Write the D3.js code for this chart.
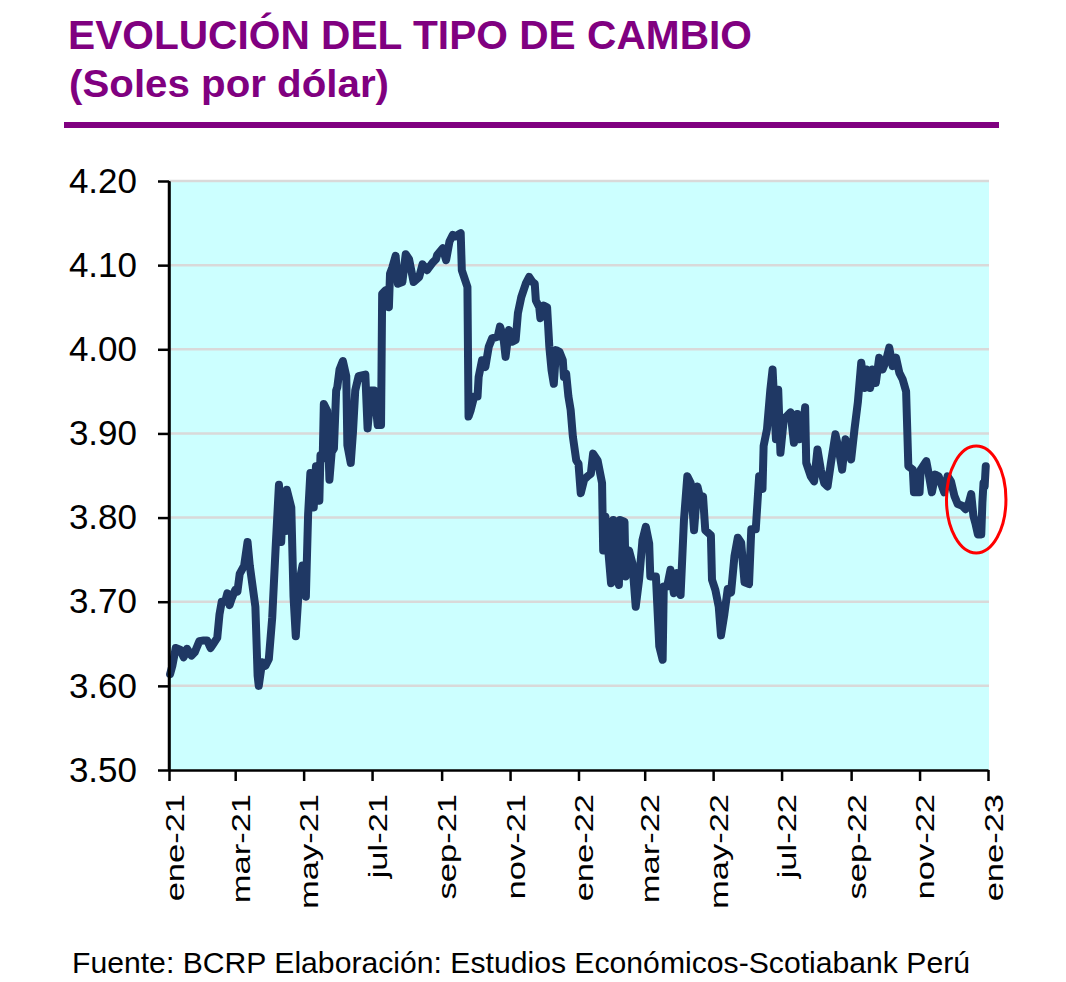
<!DOCTYPE html>
<html><head><meta charset="utf-8">
<script src="https://cdn.jsdelivr.net/npm/d3@7"></script>
<style>
body{margin:0;background:#fff}
svg{display:block}
text{font-family:"Liberation Sans",Arial,Helvetica,sans-serif}
</style>
</head><body>
<svg id="c" width="1066" height="982"></svg>
<script>
// ---------------- DATA ----------------
const titulo = "EVOLUCIÓN DEL TIPO DE CAMBIO";
const subtitulo = "(Soles por dólar)";
const fuente = "Fuente: BCRP Elaboración: Estudios Económicos-Scotiabank Perú";

const ticksY = [3.50, 3.60, 3.70, 3.80, 3.90, 4.00, 4.10, 4.20];
const ticksX = ["2021-01-01","2021-03-01","2021-05-01","2021-07-01","2021-09-01","2021-11-01",
                "2022-01-01","2022-03-01","2022-05-01","2022-07-01","2022-09-01","2022-11-01","2023-01-01"];
const etiquetasX = ["ene-21","mar-21","may-21","jul-21","sep-21","nov-21",
                    "ene-22","mar-22","may-22","jul-22","sep-22","nov-22","ene-23"];

const fechas = [
"2021-01-02","2021-01-04","2021-01-07","2021-01-11","2021-01-14","2021-01-17","2021-01-21","2021-01-24","2021-01-28",
"2021-02-01","2021-02-04","2021-02-07","2021-02-10","2021-02-13","2021-02-15","2021-02-17","2021-02-20","2021-02-22","2021-02-24","2021-02-26",
"2021-03-01","2021-03-03","2021-03-05","2021-03-09","2021-03-12","2021-03-14","2021-03-19","2021-03-21","2021-03-22","2021-03-25","2021-03-28","2021-03-31",
"2021-04-03","2021-04-06","2021-04-09","2021-04-11","2021-04-13","2021-04-15","2021-04-16","2021-04-20","2021-04-22","2021-04-24","2021-04-27","2021-04-30",
"2021-05-03","2021-05-05","2021-05-07","2021-05-10","2021-05-12","2021-05-15","2021-05-16","2021-05-18","2021-05-19","2021-05-22","2021-05-24","2021-05-26","2021-05-28","2021-05-30","2021-05-31",
"2021-06-02","2021-06-05","2021-06-08","2021-06-09","2021-06-12","2021-06-14","2021-06-16","2021-06-19","2021-06-25","2021-06-27","2021-06-30",
"2021-07-03","2021-07-06","2021-07-09","2021-07-10","2021-07-13","2021-07-16","2021-07-17","2021-07-19","2021-07-22","2021-07-24","2021-07-28","2021-07-31",
"2021-08-03","2021-08-07","2021-08-12","2021-08-15","2021-08-19","2021-08-24","2021-08-27","2021-08-28",
"2021-09-02","2021-09-05","2021-09-08","2021-09-11","2021-09-13","2021-09-18","2021-09-19","2021-09-24","2021-09-25","2021-09-27","2021-09-30",
"2021-10-03","2021-10-04","2021-10-07","2021-10-10","2021-10-13","2021-10-16","2021-10-21","2021-10-23","2021-10-26","2021-10-28","2021-10-31",
"2021-11-03","2021-11-06","2021-11-08","2021-11-11","2021-11-15","2021-11-18","2021-11-21","2021-11-23","2021-11-24","2021-11-27","2021-11-28",
"2021-12-01","2021-12-04","2021-12-06","2021-12-08","2021-12-10","2021-12-12","2021-12-15","2021-12-18","2021-12-19","2021-12-21","2021-12-23","2021-12-25","2021-12-27","2021-12-30",
"2022-01-01","2022-01-03","2022-01-06","2022-01-09","2022-01-12","2022-01-14","2022-01-18","2022-01-22","2022-01-23","2022-01-25","2022-01-30",
"2022-02-01","2022-02-03","2022-02-06","2022-02-07","2022-02-11","2022-02-12","2022-02-15","2022-02-18","2022-02-21","2022-02-24","2022-02-27",
"2022-03-02","2022-03-05","2022-03-06","2022-03-11","2022-03-14","2022-03-17","2022-03-18","2022-03-21","2022-03-24","2022-03-27","2022-03-30",
"2022-04-02","2022-04-05","2022-04-08","2022-04-11","2022-04-14","2022-04-17","2022-04-20","2022-04-22","2022-04-24","2022-04-29","2022-04-30",
"2022-05-03","2022-05-06","2022-05-08","2022-05-11","2022-05-14","2022-05-17","2022-05-20","2022-05-23","2022-05-26","2022-05-29",
"2022-06-02","2022-06-04","2022-06-08","2022-06-11","2022-06-14","2022-06-15","2022-06-18","2022-06-21","2022-06-23","2022-06-26","2022-06-28","2022-06-30",
"2022-07-03","2022-07-06","2022-07-09","2022-07-12","2022-07-15","2022-07-17","2022-07-20","2022-07-22","2022-07-23","2022-07-27","2022-07-30",
"2022-08-02","2022-08-05","2022-08-08","2022-08-11","2022-08-14","2022-08-18","2022-08-21","2022-08-24","2022-08-27",
"2022-09-01","2022-09-04","2022-09-07","2022-09-10","2022-09-13","2022-09-15","2022-09-18","2022-09-20","2022-09-23","2022-09-26","2022-09-29",
"2022-10-02","2022-10-05","2022-10-08","2022-10-11","2022-10-14","2022-10-17","2022-10-20","2022-10-22","2022-10-26","2022-10-27",
"2022-11-01","2022-11-02","2022-11-07","2022-11-09","2022-11-12","2022-11-15","2022-11-18","2022-11-23","2022-11-26","2022-11-29",
"2022-12-02","2022-12-05","2022-12-09","2022-12-12","2022-12-15","2022-12-17","2022-12-19","2022-12-21","2022-12-23","2022-12-26","2022-12-27","2022-12-28","2022-12-29","2022-12-30"
];

const tipoCambio = [
3.614,3.624,3.645,3.643,3.634,3.644,3.636,3.640,3.653,
3.654,3.654,3.645,3.651,3.657,3.685,3.700,3.700,3.710,3.696,3.704,
3.714,3.712,3.733,3.743,3.771,3.743,3.694,3.612,3.600,3.628,3.624,3.632,
3.681,3.763,3.839,3.771,3.829,3.784,3.833,3.812,3.706,3.659,3.722,3.743,
3.706,3.804,3.853,3.812,3.861,3.820,3.874,3.870,3.935,3.927,3.845,3.878,3.882,3.951,3.955,
3.976,3.986,3.968,3.886,3.865,3.902,3.951,3.968,3.970,3.906,3.951,
3.951,3.910,3.910,4.066,4.070,4.050,4.090,4.097,4.111,4.078,4.080,4.113,
4.107,4.080,4.086,4.101,4.094,4.103,4.107,4.112,
4.120,4.106,4.128,4.136,4.134,4.138,4.094,4.074,3.920,3.928,3.944,
3.944,3.967,3.987,3.979,4.003,4.013,4.015,4.027,4.015,3.991,4.023,
4.009,4.011,4.043,4.062,4.078,4.086,4.080,4.078,4.058,4.050,4.037,
4.052,4.050,4.003,3.975,3.959,3.999,3.997,3.987,3.967,3.971,3.944,3.928,3.896,3.868,
3.864,3.829,3.845,3.849,3.852,3.876,3.868,3.841,3.761,3.801,3.722,
3.797,3.734,3.720,3.797,3.795,3.730,3.761,3.746,3.694,3.726,3.773,
3.789,3.769,3.730,3.730,3.647,3.631,3.718,3.718,3.738,3.710,3.734,
3.708,3.797,3.849,3.841,3.785,3.837,3.820,3.825,3.785,3.779,3.726,
3.714,3.694,3.660,3.685,3.715,3.711,3.754,3.776,3.770,3.723,
3.721,3.786,3.786,3.849,3.834,3.885,3.905,3.952,3.976,3.893,3.952,3.877,
3.917,3.921,3.925,3.889,3.923,3.893,3.905,3.931,3.865,3.849,3.843,
3.881,3.857,3.841,3.837,3.865,3.899,3.881,3.857,3.893,
3.869,3.905,3.937,3.984,3.954,3.976,3.954,3.976,3.960,3.990,3.976,
3.986,4.002,3.980,3.990,3.972,3.964,3.950,3.861,3.857,3.830,
3.830,3.857,3.867,3.853,3.830,3.851,3.849,3.830,3.849,3.843,
3.826,3.816,3.814,3.810,3.818,3.828,3.802,3.792,3.780,3.780,3.818,3.841,3.837,3.861
];

// highlighted zone (red ellipse)
const resaltadoFechas = ["2022-11-25","2023-01-17"];
const resaltadoValores = [3.758, 3.885];

// ---------------- DRAW ----------------
const parse = d3.timeParse("%Y-%m-%d");
const serie = fechas.map((f,i)=>({fecha: parse(f), valor: tipoCambio[i]}));

const svg = d3.select("#c");
svg.append("rect").attr("width",1066).attr("height",982).attr("fill","#fff");

const plot = {left:169, right:988, top:181, bottom:770};
const x = d3.scaleTime().domain([parse(ticksX[0]), parse(ticksX[ticksX.length-1])]).range([plot.left, plot.right]);
const y = d3.scaleLinear().domain([3.5, 4.2]).range([plot.bottom, plot.top]);

const purple = "#800080";

// Title
svg.append("text").attr("x",68).attr("y",49).attr("font-size",40).attr("font-weight","bold")
  .attr("fill",purple).attr("textLength",684).attr("lengthAdjust","spacingAndGlyphs").text(titulo);
svg.append("text").attr("x",69).attr("y",97).attr("font-size",39).attr("font-weight","bold")
  .attr("fill",purple).attr("textLength",320).attr("lengthAdjust","spacingAndGlyphs").text(subtitulo);
svg.append("rect").attr("x",64).attr("y",122).attr("width",935).attr("height",6).attr("fill",purple);

// Plot background
svg.append("rect").attr("x",plot.left).attr("y",plot.top).attr("width",plot.right-plot.left+1)
  .attr("height",plot.bottom-plot.top).attr("fill","#CCFFFF");

// Gridlines
svg.append("g").selectAll("line").data(ticksY.filter(v=>v>3.5)).join("line")
  .attr("x1",plot.left).attr("x2",plot.right+1)
  .attr("y1",d=>y(d)).attr("y2",d=>y(d))
  .attr("stroke","#D9D9D9").attr("stroke-width",2.5);

// Line
const line = d3.line().x(d=>x(d.fecha)).y(d=>y(d.valor));
svg.append("path").datum(serie).attr("d",line).attr("fill","none")
  .attr("stroke","#1F3864").attr("stroke-width",8)
  .attr("stroke-linejoin","round").attr("stroke-linecap","round");

// Y axis
const yAxis = d3.axisLeft(y).tickValues(ticksY).tickFormat(d3.format(".2f")).tickSize(11).tickSizeOuter(0).tickPadding(21);
const gy = svg.append("g").attr("transform",`translate(${plot.left},0)`).call(yAxis);
gy.select(".domain").attr("stroke","#000").attr("stroke-width",2.5);
gy.selectAll(".tick line").attr("stroke","#000").attr("stroke-width",2.5);
gy.selectAll(".tick text").attr("font-size",35).attr("fill","#000")
  .attr("font-family","'Liberation Sans',Arial,sans-serif");

// X axis
const fechasTick = ticksX.map(parse);
const xAxis = d3.axisBottom(x).tickValues(fechasTick).tickSize(11).tickSizeOuter(0)
  .tickFormat((d,i)=>etiquetasX[i]);
const gx = svg.append("g").attr("transform",`translate(0,${plot.bottom})`).call(xAxis);
gx.select(".domain").attr("stroke","#000").attr("stroke-width",2.5);
gx.selectAll(".tick line").attr("stroke","#000").attr("stroke-width",2.5);
gx.selectAll(".tick text")
  .attr("font-size",34.5).attr("fill","#000")
  .attr("font-family","'Liberation Sans',Arial,sans-serif")
  .attr("text-anchor","end").attr("dy",null).attr("y",null)
  .attr("transform","translate(14,24) rotate(-90) scale(1,0.76)");

// y axis line over junction
svg.append("line").attr("x1",plot.left).attr("x2",plot.left).attr("y1",plot.top).attr("y2",plot.bottom+1)
  .attr("stroke","#000").attr("stroke-width",2.5);

// Highlight ellipse
const ex0 = x(parse(resaltadoFechas[0])), ex1 = x(parse(resaltadoFechas[1]));
const ey0 = y(resaltadoValores[1]), ey1 = y(resaltadoValores[0]);
svg.append("ellipse").attr("cx",(ex0+ex1)/2).attr("cy",(ey0+ey1)/2)
  .attr("rx",(ex1-ex0)/2).attr("ry",(ey1-ey0)/2)
  .attr("fill","none").attr("stroke","#FF0000").attr("stroke-width",3);

// Source
svg.append("text").attr("x",72).attr("y",973).attr("font-size",30).attr("fill","#000")
  .attr("textLength",898).attr("lengthAdjust","spacingAndGlyphs").text(fuente);
</script>
</body></html>
